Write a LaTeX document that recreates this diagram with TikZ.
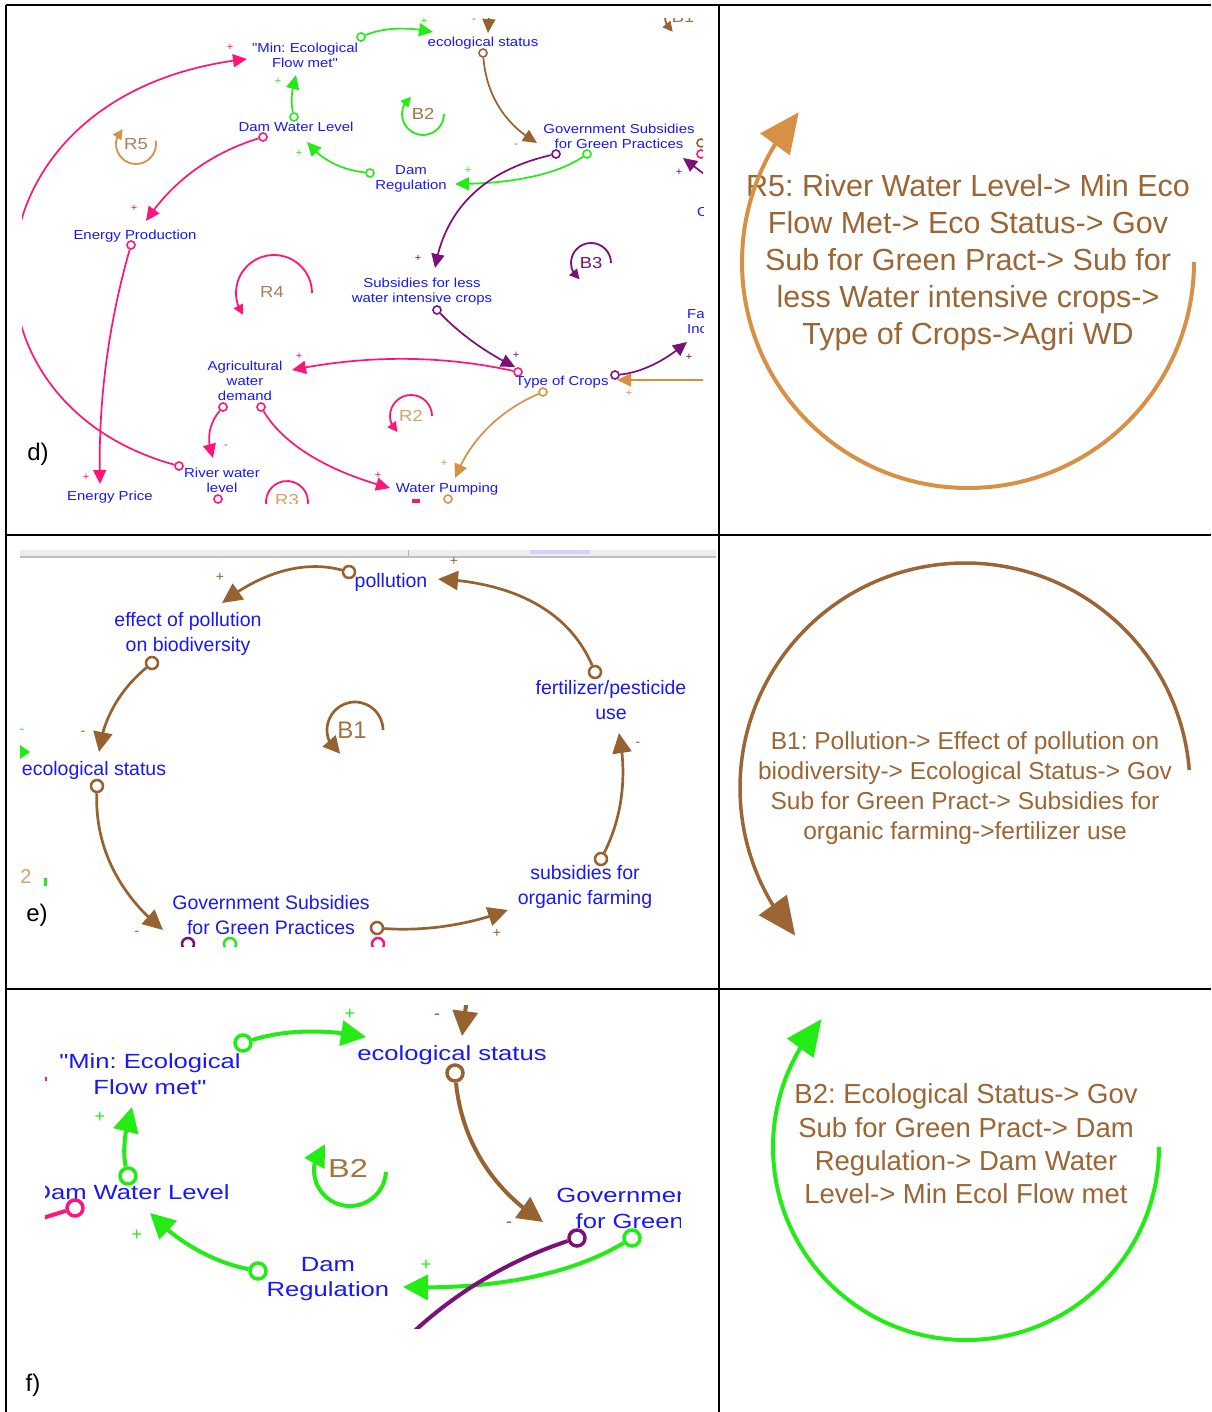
\documentclass[tikz,border=0pt]{standalone}
\usepackage{fontspec}
\setmainfont{Liberation Sans}
\newfontfamily\fontd{Liberation Sans}[FakeStretch=1.15]
\newfontfamily\fontf{Liberation Sans}[FakeStretch=1.25]
\usetikzlibrary{arrows.meta,bending,calc}
\frenchspacing

\definecolor{cldblue}{RGB}{25,25,240}
\definecolor{cpink}{RGB}{255,20,120}
\definecolor{cgreen}{RGB}{35,235,20}
\definecolor{cbrown}{RGB}{150,98,48}
\definecolor{corange}{RGB}{215,145,70}
\definecolor{cpurple}{RGB}{125,15,120}
\definecolor{ctext}{RGB}{155,101,52}
\definecolor{ctan}{RGB}{168,128,88}
\definecolor{clighttan}{RGB}{215,160,100}
\definecolor{cloopb}{RGB}{165,115,65}

% a causal link drawn as a quadratic curve: style, tail, control point, head
\newcommand{\cldlink}[4]{\draw[#1] (#2) .. controls ($(#2)!0.6667!(#3)$) and ($(#4)!0.6667!(#3)$) .. (#4);}

\tikzset{
  tableline/.style={line width=2bp, black},
  dvar/.style={font=\fontd\fontsize{13bp}{15bp}\selectfont, text=cldblue, align=center, inner sep=0pt},
  evar/.style={font=\fontsize{19.5bp}{24.5bp}\selectfont, text=cldblue, align=center, inner sep=0pt},
  fvar/.style={font=\fontf\fontsize{20.5bp}{25.5bp}\selectfont, text=cldblue, align=center, inner sep=0pt},
  dlink/.style={line width=1.7bp, -{Triangle[length=14bp,width=13bp]}},
  elink/.style={line width=2.7bp, -{Triangle[length=20bp,width=19bp]}},
  flink/.style={line width=4bp, -{Triangle[length=25bp,width=25bp]}},
  dtail/.style={circle, draw, fill=white, line width=1.6bp, minimum size=8bp, inner sep=0pt},
  etail/.style={circle, draw, fill=white, line width=2.5bp, minimum size=12bp, inner sep=0pt},
  ftail/.style={circle, draw, fill=white, line width=3.5bp, minimum size=16bp, inner sep=0pt},
  dsign/.style={font=\fontsize{11bp}{11bp}\selectfont, inner sep=0pt},
  esign/.style={font=\fontsize{14bp}{14bp}\selectfont, inner sep=0pt},
  fsign/.style={font=\fontsize{18bp}{18bp}\selectfont, inner sep=0pt},
  dloop/.style={font=\fontd\fontsize{16bp}{16bp}\selectfont, inner sep=0pt},
  dloopline/.style={line width=1.8bp},
  dlooparrow/.style={line width=1.8bp, -{Triangle[length=10bp,width=10bp]}},
  panellabel/.style={font=\fontsize{24bp}{24bp}\selectfont, text=black, inner sep=0pt},
  looptext/.style={text=ctext, align=center, inner sep=0pt},
}

\begin{document}
\begin{tikzpicture}[x=1bp,y=-1bp]
\useasboundingbox (0,0) rectangle (1211,1412);
\fill[white] (0,0) rectangle (1211,1412);

%% ---------------- row d: full causal loop diagram ----------------
\begin{scope}
\clip (22,19) rectangle (703,503);
% variables
\node[dvar] (dMin) at (305,55.5) {"Min: Ecological\\Flow met"};
\node[dvar] (dEco) at (483,43) {ecological status};
\node[dvar] (dDWL) at (296,127) {Dam Water Level};
\node[dvar] (dGov) at (619,136) {Government Subsidies\\for Green Practices};
\node[dvar] (dDR) at (411,179) {Dam\\Regulation};
\node[dvar] (dEP) at (135,236) {Energy Production};
\node[dvar] (dSub) at (422,291.5) {Subsidies for less\\water intensive crops};
\node[dvar] (dAWD) at (245,381) {Agricultural\\water\\demand};
\node[dvar] (dToC) at (562,382) {Type of Crops};
\node[dvar] (dRWL) at (222,480.5) {River water\\level};
\node[dvar] (dEPr) at (110,497) {Energy Price};
\node[dvar] (dWP) at (447,489) {Water Pumping};
\node[dvar, anchor=west, align=left] (dFa) at (687,322) {Fa\\Inc};
\node[dvar, anchor=west] (dC) at (697,212) {C};

% link tails
\node[dtail, draw=cpink] (dt1) at (179,466) {};
\node[dtail, draw=cgreen] (dt2) at (361,37) {};
\node[dtail, draw=cgreen] (dt3) at (294,117) {};
\node[dtail, draw=cgreen] (dt4) at (370,173) {};
\node[dtail, draw=cgreen] (dt5) at (587,154) {};
\node[dtail, draw=cbrown] (dt6) at (483,53) {};
\node[dtail, draw=cpurple] (dt7) at (556,154) {};
\node[dtail, draw=cpurple] (dt8) at (437,310) {};
\node[dtail, draw=cpink] (dt9) at (518,372) {};
\node[dtail, draw=cpink] (dt10) at (223,407) {};
\node[dtail, draw=cpink] (dt11) at (261,407) {};
\node[dtail, draw=cpink] (dt12) at (263,137) {};
\node[dtail, draw=cpink] (dt13) at (131,245) {};
\node[dtail, draw=corange] (dt14) at (543,392) {};
\node[dtail, draw=cpurple] (dt15) at (615,375) {};
\node[dtail, draw=cbrown] (dt16) at (701,143) {};
\node[dtail, draw=cpink] (dt17) at (701,154) {};
\node[dtail, draw=cpink] (dt18) at (218,499) {};
\node[dtail, draw=corange] (dt19) at (448,499) {};

% link heads and free ends
\coordinate (dh1) at (247,59);
\coordinate (dh2) at (433,32);
\coordinate (dh3) at (296,75);
\coordinate (dh4) at (307,142);
\coordinate (dh5) at (455,184);
\coordinate (dh6) at (537,143);
\coordinate (dh7) at (435,268);
\coordinate (dh8) at (515,367);
\coordinate (dh9) at (292,370);
\coordinate (dh10) at (213,458);
\coordinate (dh11) at (390,488);
\coordinate (dh12) at (146,221);
\coordinate (dh13) at (100,484);
\coordinate (dh14) at (455,478);
\coordinate (dh15) at (687,342);
\coordinate (dh16) at (617,380);
\coordinate (de16) at (720,380);
\coordinate (dh17) at (488,33);
\coordinate (de17) at (490,0);
\coordinate (dh18) at (683,158);
\coordinate (de18) at (712,180);

% links
\draw[dlink, cpink] (dt1) .. controls (-60,400) and (-40,90) .. (dh1);
\cldlink{dlink, cgreen}{dt2}{393,23.5}{dh2}
\cldlink{dlink, cgreen}{dt3}{289,96}{dh3}
\cldlink{dlink, cgreen}{dt4}{327.5,168.5}{dh4}
\cldlink{dlink, cgreen}{dt5}{543,184}{dh5}
\cldlink{dlink, cbrown}{dt6}{488,115}{dh6}
\cldlink{dlink, cpurple}{dt7}{450,178}{dh7}
\cldlink{dlink, cpurple}{dt8}{471,345.5}{dh8}
\cldlink{dlink, cpink}{dt9}{405,347}{dh9}
\cldlink{dlink, cpink}{dt10}{202,431.5}{dh10}
\cldlink{dlink, cpink}{dt11}{294.5,462.5}{dh11}
\cldlink{dlink, cpink}{dt12}{185.5,161}{dh12}
\cldlink{dlink, cpink}{dt13}{96.5,365.5}{dh13}
\cldlink{dlink, corange}{dt14}{478,420}{dh14}
\cldlink{dlink, cpurple}{dt15}{653,371.5}{dh15}
\draw[dlink, corange] (de16) -- (dh16);
\draw[dlink, cbrown] (de17) -- (dh17);
\draw[dlink, cpurple] (de18) -- (dh18);
\draw[line width=4bp, cpink] (412,501) -- (420,501);

% polarity signs
\node[dsign, text=cpink] (ds1) at (230,47) {+};
\node[dsign, text=cgreen] (ds2) at (278,81) {+};
\node[dsign, text=cgreen] (ds3) at (299,153) {+};
\node[dsign, text=cgreen] (ds4) at (468,170) {+};
\node[dsign, text=cgreen] (ds5) at (424,21) {+};
\node[dsign, text=cbrown] (ds6) at (516,146) {-};
\node[dsign, text=cbrown] (ds7) at (474,21) {-};
\node[dsign, text=cpurple] (ds8) at (418,258) {+};
\node[dsign, text=cpurple] (ds9) at (516,355) {+};
\node[dsign, text=cpink] (ds10) at (299,356) {+};
\node[dsign, text=cpink] (ds11) at (226,447) {-};
\node[dsign, text=cpink] (ds12) at (378,475) {+};
\node[dsign, text=cpink] (ds13) at (134,208) {+};
\node[dsign, text=cpink] (ds14) at (86,477) {+};
\node[dsign, text=corange] (ds15) at (444,463) {+};
\node[dsign, text=cpurple] (ds16) at (689,357) {+};
\node[dsign, text=corange] (ds17) at (629,393) {+};
\node[dsign, text=cpurple] (ds18) at (679,172) {+};

% loop markers
\draw[dlooparrow, corange] ([shift={(-10:20)}]136,144) arc[start angle=-10, end angle=228, radius=20];
\node[dloop, text=ctan] (dR5) at (136,144) {R5};
\draw[dlooparrow, cgreen] ([shift={(0:21)}]423,114) arc[start angle=0, end angle=235, radius=21];
\node[dloop, text=cloopb] (dB2) at (423,114) {B2};
\draw[dlooparrow, cpurple] ([shift={(0:20)}]591,263) arc[start angle=0, end angle=-235, radius=20];
\node[dloop, text=cpurple] (dB3) at (591,263) {B3};
\draw[dlooparrow, cpink] ([shift={(0:38)}]274,293) arc[start angle=0, end angle=-215, radius=38];
\node[dloop, text=ctan] (dR4) at (272,292) {R4};
\draw[dlooparrow, cpink] ([shift={(0:21)}]411,416) arc[start angle=0, end angle=-230, radius=21];
\node[dloop, text=clighttan] (dR2) at (411,416) {R2};
\draw[dloopline, cpink] ([shift={(170:21)}]287,502) arc[start angle=170, end angle=370, radius=21];
\node[dloop, text=clighttan] (dR3) at (287,500) {R3};
\draw[dlooparrow, cbrown] ([shift={(0:18)}]683,17) arc[start angle=0, end angle=-235, radius=18];
\node[dloop, text=cloopb] (dB1) at (683,17) {B1};
\end{scope}
\node[panellabel] (labd) at (38,454) {d)};

%% ---------------- row e: loop B1 ----------------
\begin{scope}
\clip (20,549) rectangle (717,946);
\fill[gray!14] (20,550) rectangle (716,557);
\draw[gray!50, line width=1.2bp] (20,557) -- (716,557);
\fill[blue!18] (530,550) rectangle (590,554);
\draw[gray!60, line width=1bp] (408,550) -- (408,557);

\node[evar] (ePol) at (391,582) {pollution};
\node[evar] (eEff) at (188,634) {effect of pollution\\on biodiversity};
\node[evar] (eFert) at (611,700) {fertilizer/pesticide\\use};
\node[evar] (eEco) at (94,770) {ecological status};
\node[evar] (eSub) at (585,887) {subsidies for\\organic farming};
\node[evar] (eGov) at (271,915) {Government Subsidies\\for Green Practices};

\node[etail, draw=cbrown] (et1) at (349,572) {};
\node[etail, draw=cbrown] (et2) at (152,663) {};
\node[etail, draw=cbrown] (et3) at (97,786) {};
\node[etail, draw=cbrown] (et4) at (377,928) {};
\node[etail, draw=cbrown] (et5) at (601,859) {};
\node[etail, draw=cbrown] (et6) at (595,672) {};
\node[etail, draw=cpurple] (et7) at (188,944) {};
\node[etail, draw=cgreen] (et8) at (230,944) {};
\node[etail, draw=cpink] (et9) at (378,944) {};

\coordinate (eh1) at (222,603);
\coordinate (eh2) at (99,752);
\coordinate (eh3) at (163,930);
\coordinate (eh4) at (508,910);
\coordinate (eh5) at (619,733);
\coordinate (eh6) at (438,579);

\cldlink{elink, cbrown}{et1}{284.5,554.5}{eh1}
\cldlink{elink, cbrown}{et2}{104.5,702.5}{eh2}
\cldlink{elink, cbrown}{et3}{94,874}{eh3}
\cldlink{elink, cbrown}{et4}{447.5,933}{eh4}
\cldlink{elink, cbrown}{et5}{632,798}{eh5}
\cldlink{elink, cbrown}{et6}{557.5,584.5}{eh6}

\node[esign, text=cbrown] (es1) at (220,577) {+};
\node[esign, text=cbrown] (es2) at (83,733) {-};
\node[esign, text=cbrown] (es3) at (137,933) {-};
\node[esign, text=cbrown] (es4) at (497,933) {+};
\node[esign, text=cbrown] (es5) at (638,744) {-};
\node[esign, text=cbrown] (es6) at (454,561) {+};

\draw[line width=2.7bp, cbrown, -{Triangle[length=17bp,width=17bp]}] ([shift={(0:28)}]355,730) arc[start angle=0, end angle=-238, radius=28];
\node[font=\fontsize{24bp}{24bp}\selectfont, text=cloopb, inner sep=0pt] (eB1) at (352,730) {B1};

\fill[cgreen] (20,745) -- (30,752) -- (20,759) -- cycle;
\node[esign, text=cgreen] (es7) at (22,731) {-};
\node[font=\fontsize{20bp}{20bp}\selectfont, text=clighttan, inner sep=0pt] (e2) at (26,877) {2};
\fill[cgreen] (44,878) rectangle (47,886);
\end{scope}
\node[panellabel] (labe) at (37,915) {e)};

%% ---------------- row f: loop B2 ----------------
\begin{scope}
\clip (45,1005) rectangle (680,1328);
\node[fvar] (fMin) at (150,1074) {"Min: Ecological\\Flow met"};
\node[fvar] (fEco) at (452,1055) {ecological status};
\node[fvar] (fDWL) at (131,1192) {Dam Water Level};
\node[fvar] (fGov) at (686,1208) {Government Subsidies\\for Green Practices};
\node[fvar] (fDR) at (328,1279) {Dam\\Regulation};

\node[ftail, draw=cgreen] (ft1) at (243,1043) {};
\node[ftail, draw=cgreen] (ft2) at (128,1176) {};
\node[ftail, draw=cgreen] (ft3) at (258,1271) {};
\node[ftail, draw=cgreen] (ft4) at (632,1238) {};
\node[ftail, draw=cbrown] (ft5) at (455,1073) {};
\node[ftail, draw=cpurple] (ft7) at (577,1238) {};
\node[ftail, draw=cpink] (ft8) at (75,1208) {};

\coordinate (fh1) at (366,1037);
\coordinate (fh2) at (132,1107);
\coordinate (fh3) at (150,1213);
\coordinate (fh4) at (403,1287);
\coordinate (fh5) at (543,1222);
\coordinate (fh6) at (462,1036);
\coordinate (fe6) at (468,990);
\coordinate (fe7) at (400,1345);
\coordinate (fe8) at (30,1222);

\cldlink{flink, cgreen}{ft1}{301.5,1024}{fh1}
\cldlink{flink, cgreen}{ft2}{120,1142.5}{fh2}
\cldlink{flink, cgreen}{ft3}{192,1258}{fh3}
\cldlink{flink, cgreen}{ft4}{542.5,1291.5}{fh4}
\cldlink{flink, cbrown}{ft5}{465,1172.5}{fh5}
\draw[flink, cbrown] (fe6) -- (fh6);
\cldlink{line width=4bp, cpurple}{ft7}{471.5,1272.5}{fe7}
\draw[line width=4bp, cpink] (ft8) -- (fe8);
\fill[cpink] (45,1077) rectangle (47,1081);

\node[fsign, text=cgreen] (fs1) at (350,1014) {+};
\node[fsign, text=cgreen] (fs2) at (100,1117) {+};
\node[fsign, text=cgreen] (fs3) at (137,1235) {+};
\node[fsign, text=cgreen] (fs4) at (426,1265) {+};
\node[fsign, text=cbrown] (fs5) at (437,1017) {-};
\node[fsign, text=cbrown] (fs6) at (509,1225) {-};

\draw[line width=4bp, cgreen, -{Triangle[length=22bp,width=22bp]}] ([shift={(3:36)}]350,1170) arc[start angle=3, end angle=226, radius=36];
\node[font=\fontf\fontsize{26bp}{26bp}\selectfont, text=cloopb, inner sep=0pt] (fB2) at (348,1168) {B2};
\end{scope}
\node[panellabel] (labf) at (33,1385) {f)};

%% ---------------- right column: loop descriptions ----------------
\node[looptext, font=\fontsize{30.5bp}{37bp}\selectfont] (r5txt) at (968,263)
  {R5: River Water Level-> Min Eco\\Flow Met-> Eco Status-> Gov\\Sub for Green Pract-> Sub for\\less Water intensive crops->\\Type of Crops->Agri WD};
\draw[line width=4bp, corange, -{Triangle[length=40bp,width=36bp]}] ([shift={(0:226)}]968,262) arc[start angle=0, end angle=221.5, radius=226];

\node[looptext, font=\fontsize{24.5bp}{30bp}\selectfont] (b1txt) at (965,788)
  {B1: Pollution-> Effect of pollution on\\biodiversity-> Ecological Status-> Gov\\Sub for Green Pract-> Subsidies for\\organic farming->fertilizer use};
\draw[line width=3.5bp, ctext, -{Triangle[length=38bp,width=34bp]}] ([shift={(-4.6:225)}]965,788) arc[start angle=-4.6, end angle=-221, radius=225];

\node[looptext, font=\fontsize{27.5bp}{33.3bp}\selectfont] (b2txt) at (966,1144)
  {B2: Ecological Status-> Gov\\Sub for Green Pract-> Dam\\Regulation-> Dam Water\\Level-> Min Ecol Flow met};
\draw[line width=4bp, cgreen, -{Triangle[length=36bp,width=32bp]}] ([shift={(0:193)}]966,1147) arc[start angle=0, end angle=221.5, radius=193];

%% ---------------- table rules ----------------
\draw[tableline] (6,5) -- (1211,5);
\draw[tableline] (6,5) -- (6,1412);
\draw[tableline] (719,5) -- (719,1412);
\draw[tableline] (6,535) -- (1211,535);
\draw[tableline] (6,989) -- (1211,989);
\end{tikzpicture}
\end{document}
